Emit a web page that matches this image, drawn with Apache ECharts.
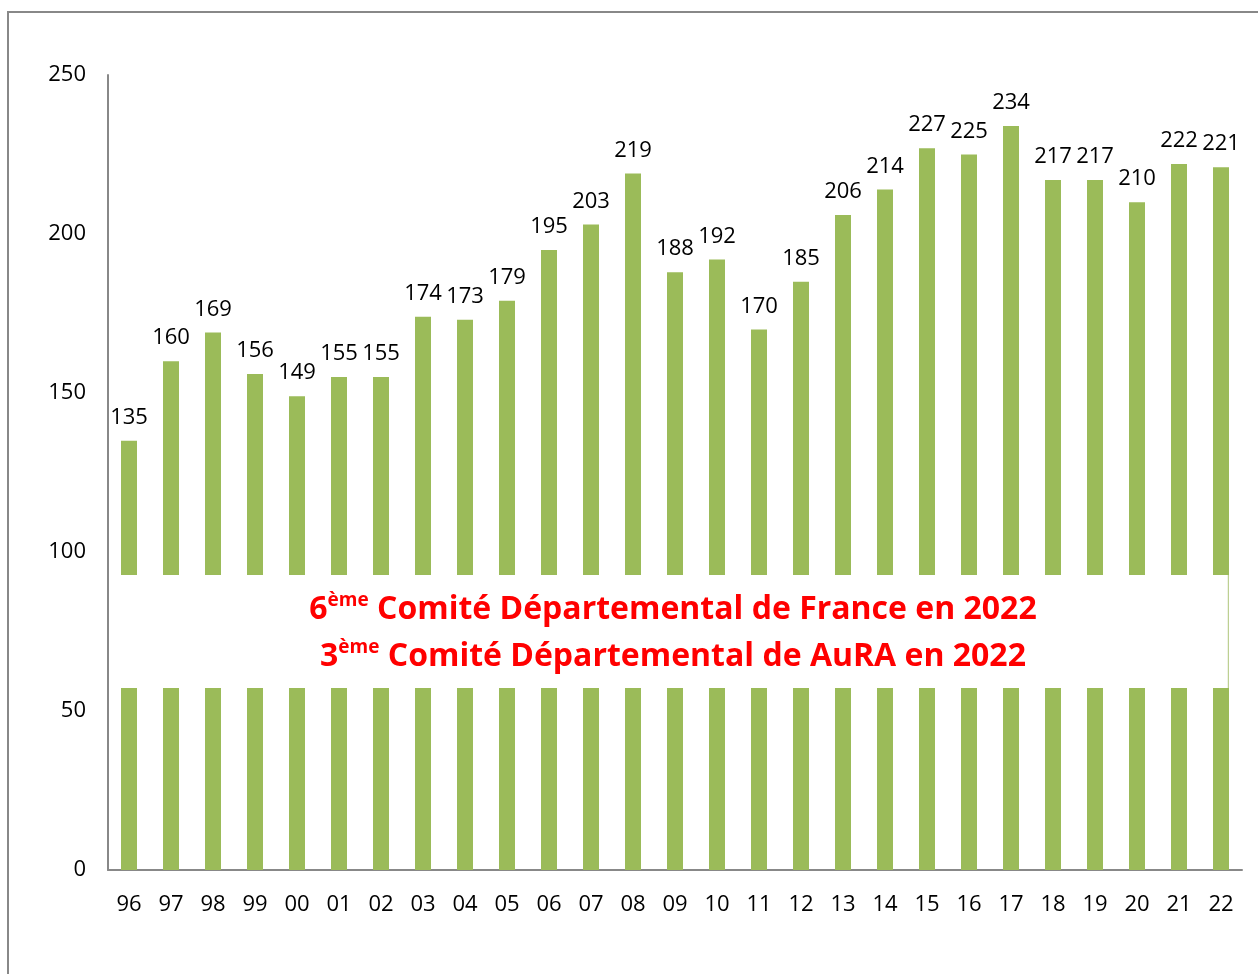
<!DOCTYPE html>
<html>
<head>
<meta charset="utf-8">
<script src="https://cdn.jsdelivr.net/npm/echarts@6/dist/echarts.min.js"></script>
<style>
  html, body { margin: 0; padding: 0; background: #fff; }
  #main { width: 1258px; height: 974px; }
</style>
</head>
<body>
<div id="main"></div>
<script>
// années (2 chiffres)
var years = ['96','97','98','99','00','01','02','03','04','05','06','07','08','09',
  '10','11','12','13','14','15','16','17','18','19','20','21','22'];
// nombre de clubs / valeurs
var values = [135,160,169,156,149,155,155,174,173,179,195,203,219,188,
  192,170,185,206,214,227,225,234,217,217,210,222,221];
var yTicks = [0, 50, 100, 150, 200, 250];

var font = '"Open Sans", "Noto Sans", sans-serif';
var myChart = echarts.init(document.getElementById('main'));

var richLine = {
  b: { fontSize: 32, fontWeight: 'bold', fill: '#FF0000', fontFamily: font, lineHeight: 38 },
  s: { fontSize: 19, fontWeight: 'bold', fill: '#FF0000', fontFamily: font, padding: [0, 0, 19, 0], lineHeight: 38 }
};

var option = {
  backgroundColor: '#fff',
  animation: false,
  grid: { left: 108, right: 16, top: 75, bottom: 104 },
  xAxis: {
    type: 'category',
    data: years,
    axisLine: { lineStyle: { color: '#888', width: 2 } },
    axisTick: { show: false },
    axisLabel: { color: '#000', fontSize: 22, fontFamily: font, margin: 24 }
  },
  yAxis: {
    type: 'value',
    min: yTicks[0],
    max: yTicks[yTicks.length - 1],
    interval: 50,
    axisLine: { show: true, lineStyle: { color: '#888', width: 2 } },
    axisTick: { show: false },
    splitLine: { show: false },
    axisLabel: { color: '#000', fontSize: 22, fontFamily: font, margin: 22 }
  },
  series: [{
    type: 'bar',
    data: values,
    barWidth: 16,
    itemStyle: { color: '#9BBB59' },
    label: {
      show: true,
      position: 'top',
      distance: 12,
      color: '#000',
      fontSize: 22,
      fontFamily: font
    }
  }],
  graphic: [
    {
      type: 'rect',
      z: 100,
      shape: { x: 8, y: 12, width: 1400, height: 1100 },
      style: { fill: 'none', stroke: '#888', lineWidth: 2 }
    },
    {
      type: 'rect',
      z: 100,
      shape: { x: 118, y: 575, width: 1110, height: 113 },
      style: { fill: '#fff' }
    },
    {
      type: 'line',
      z: 100,
      shape: { x1: 1228, y1: 575, x2: 1228, y2: 688 },
      style: { stroke: '#dfe6cc', lineWidth: 1 }
    },
    {
      type: 'text',
      z: 101,
      x: 673,
      y: 610,
      style: {
        text: '{b|6}{s|ème}{b| Comité Départemental de France en 2022}',
        align: 'center',
        verticalAlign: 'middle',
        rich: richLine
      }
    },
    {
      type: 'text',
      z: 101,
      x: 673,
      y: 657,
      style: {
        text: '{b|3}{s|ème}{b| Comité Départemental de AuRA en 2022}',
        align: 'center',
        verticalAlign: 'middle',
        rich: richLine
      }
    }
  ]
};

myChart.setOption(option);
</script>
</body>
</html>
